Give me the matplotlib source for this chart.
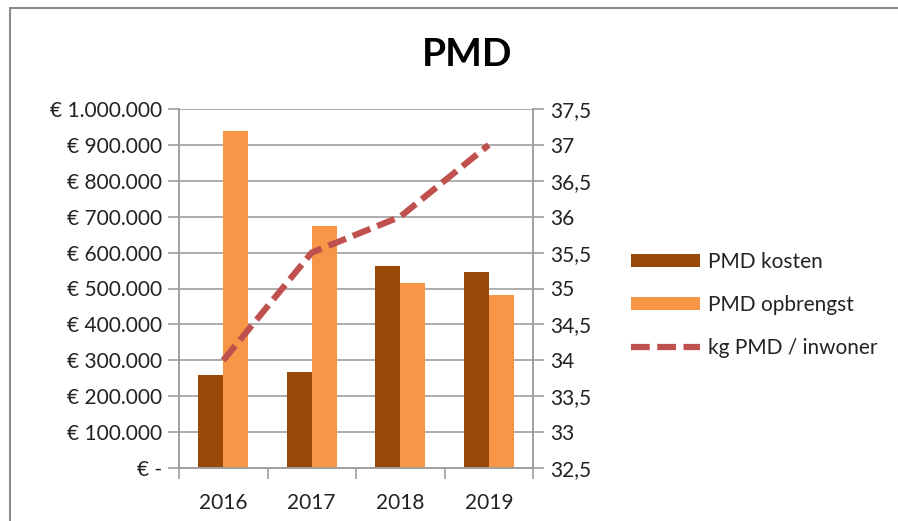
import matplotlib.pyplot as plt
import numpy as np
from matplotlib.patches import Rectangle
from matplotlib.ticker import FixedLocator, FuncFormatter

years = ["2016", "2017", "2018", "2019"]
kosten = [259000, 268000, 563000, 546000]
opbrengst = [940000, 675000, 514000, 482000]
kg_per_inwoner = [34.0, 35.5, 36.0, 37.0]

plt.rcParams["font.family"] = ["Lato", "DejaVu Sans"]

fig = plt.figure(figsize=(8.98, 5.21), dpi=100)
# chart frame (right and bottom edges fall outside the picture)
fig.patches.append(Rectangle((10 / 898, -0.01), 0.99, 1 - 8 / 521 + 0.01,
                             transform=fig.transFigure, fill=False,
                             edgecolor="#8c8c8c", linewidth=1.5))

ax = fig.add_axes([179 / 898, 1 - 468 / 521, 354 / 898, 359 / 521])
x = np.arange(len(years))
w = 0.2825
ax.bar(x - w / 2, kosten, w, color="#984807", label="PMD kosten", zorder=2)
ax.bar(x + w / 2, opbrengst, w, color="#F79646", label="PMD opbrengst", zorder=2)
ax.set_xlim(-0.5, 3.5)
ax.set_ylim(0, 1000000)
ax.set_yticks(np.arange(0, 1000001, 100000))


def euro(v, pos):
    if v == 0:
        return "€ -"
    return "€ " + f"{int(v):,}".replace(",", ".")


grey = "#a0a0a0"
ax.yaxis.set_major_formatter(FuncFormatter(euro))
ax.grid(axis="y", color=grey, linewidth=1.2, zorder=0)
ax.set_xticks(x)
ax.set_xticklabels(years)
ax.xaxis.set_minor_locator(FixedLocator([-0.5, 0.5, 1.5, 2.5, 3.5]))
ax.tick_params(axis="x", which="major", length=0, pad=18, labelsize=15, colors="#222222")
ax.tick_params(axis="x", which="minor", length=8, color=grey, width=1.2)
ax.tick_params(axis="y", length=8, color=grey, width=1.2, labelsize=15,
               colors="#222222", pad=4)
for s in ax.spines.values():
    s.set_color(grey)
    s.set_linewidth(1.2)
ax.spines["top"].set_visible(False)

ax2 = ax.twinx()
ax2.plot(x, kg_per_inwoner, color="#C0504D", linewidth=4.5, dashes=(3, 1.2),
         label="kg PMD / inwoner", zorder=3)
ax2.set_ylim(32.5, 37.5)
ax2.set_yticks(np.arange(32.5, 37.51, 0.5))
ax2.yaxis.set_major_formatter(FuncFormatter(lambda v, p: f"{v:g}".replace(".", ",")))
ax2.tick_params(axis="y", length=8, color=grey, width=1.2, labelsize=15,
                colors="#222222", pad=4)
for s in ax2.spines.values():
    s.set_color(grey)
    s.set_linewidth(1.2)
ax2.spines["top"].set_visible(False)

fig.text(467 / 898, 1 - 55 / 521, "PMD", ha="center", va="center",
         fontsize=28, fontweight="bold")

h1, l1 = ax.get_legend_handles_labels()
h2, l2 = ax2.get_legend_handles_labels()
fig.legend(h1 + h2, l1 + l2, loc="center left",
           bbox_to_anchor=(612 / 898, 1 - 305 / 521), frameon=False,
           fontsize=15, handlelength=3.3, handleheight=0.6,
           labelspacing=1.1, handletextpad=0.4, labelcolor="#222222")

fig.savefig("out.png", dpi=100)
